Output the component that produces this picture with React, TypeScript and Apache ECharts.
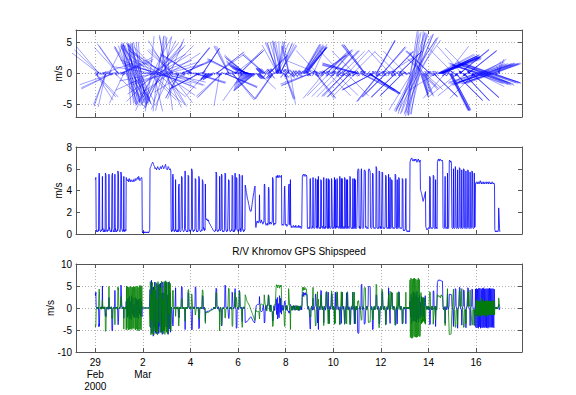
import React, { useEffect, useRef } from "react";
import * as echarts from "echarts";

// GPS ship velocity. Each day has two lists: samples on the
// 0.025-day grid and the samples half-way between them (0.0125 day later).
// Each sample: [speed m/s, u (east) m/s, v (north) m/s]
type Sample = [number, number, number];
const SAMPLE_STEP_DAYS = 0.025;

const FEB29: Sample[] = [
  [5.0, 3.3, -3.8], [5.2, 3.6, -3.8], [0.4, 0.3, -0.2], [0.3, -0.2, 0.2], [0.3, 0.1, 0.3],
  [0.4, -0.3, -0.2], [5.4, -4.3, 3.3], [5.5, -4.0, 3.8], [0.3, -0.2, 0.2], [0.2, 0.1, 0.1],
  [0.4, 0.3, -0.3], [0.3, -0.2, -0.2], [5.3, 5.0, 1.7], [0.5, 0.4, 0.3], [0.3, -0.2, 0.2],
  [0.2, 0.1, -0.1], [0.4, 0.2, 0.3], [5.6, -1.8, -5.3], [5.4, -2.0, -5.0], [0.3, -0.2, -0.2],
  [0.2, 0.1, 0.1], [0.4, -0.3, 0.3], [0.3, 0.2, -0.2], [5.5, 2.4, 4.9], [0.6, 0.3, 0.5],
  [0.3, -0.2, 0.2], [0.2, 0.1, 0.1], [0.4, 0.3, -0.2], [5.4, -4.9, -2.3], [5.6, -5.0, -2.5],
  [0.4, -0.3, -0.3], [0.3, 0.2, 0.2], [0.2, -0.1, 0.1], [5.5, 4.0, -3.8], [0.5, 0.3, -0.4],
  [0.3, -0.2, 0.2], [0.2, 0.1, -0.1], [0.4, -0.3, 0.2], [5.8, -3.3, 4.8], [5.5, -3.1, 4.5],
];
const FEB29_H: Sample[] = [
  [5.1, 2.8, -4.3], [0.5, 0.3, -0.4], [0.2, -0.1, 0.1], [0.3, 0.2, 0.2], [0.2, -0.1, -0.1],
  [0.3, 0.2, -0.2], [5.6, -3.6, 4.3], [0.4, -0.3, 0.3], [0.3, 0.2, -0.2], [0.2, -0.1, -0.1],
  [0.3, -0.2, 0.2], [0.4, 0.3, 0.2], [0.4, 0.3, -0.2], [0.2, -0.1, 0.1], [0.3, 0.2, 0.2],
  [0.3, -0.2, -0.2], [0.2, 0.1, -0.1], [5.5, -1.2, -5.4], [0.4, -0.3, -0.3], [0.3, 0.2, 0.1],
  [0.2, -0.1, -0.1], [0.3, 0.2, 0.2], [0.4, -0.3, 0.2], [0.5, 0.3, 0.4], [0.3, -0.2, 0.2],
  [0.2, 0.1, -0.1], [0.3, -0.2, -0.2], [0.2, 0.1, 0.1], [5.5, -5.2, -1.8], [0.5, -0.4, -0.3],
  [0.2, 0.1, -0.1], [0.3, -0.2, 0.2], [0.3, 0.2, -0.2], [0.4, 0.3, -0.3], [0.2, -0.1, 0.1],
  [0.3, 0.2, 0.2], [0.2, -0.1, -0.1], [0.3, 0.2, -0.2], [5.7, -3.8, 4.2], [0.5, -0.3, 0.4],
];
const MAR01: Sample[] = [
  [0.4, -0.3, 0.3], [0.3, 0.2, -0.2], [0.3, 0.1, 0.3], [5.7, 5.2, 2.3], [5.4, 5.0, 2.0],
  [0.5, 0.4, 0.3], [0.3, -0.2, -0.2], [0.4, 0.3, 0.2], [5.3, -2.3, -4.8], [0.4, -0.2, -0.3],
  [0.3, 0.2, 0.2], [0.4, -0.3, 0.2], [5.2, 1.5, -5.0], [5.0, 2.0, -4.6], [4.9, -1.0, 4.8],
  [5.0, 2.2, -4.5], [4.8, -0.8, 4.7], [5.1, 1.2, -4.9], [4.9, -2.5, 4.2], [4.8, 0.5, -4.8],
  [5.0, -1.5, 4.8], [4.9, 2.8, -4.0], [4.8, -0.3, 4.8], [4.9, 1.8, -4.6], [5.0, -2.0, 4.6],
  [4.8, 0.9, -4.7], [4.9, -1.2, 4.8], [5.1, 2.4, -4.5], [4.9, -0.6, 4.9], [5.0, 1.4, -4.8],
  [5.1, -2.2, 4.6], [5.2, 0.7, -5.1], [5.0, -1.6, 4.7], [5.3, 2.0, -4.9], [5.2, -0.5, 5.1],
  [4.9, 1.1, -4.8], [5.0, -1.9, 4.6], [5.1, 0.8, -5.0], [5.2, -1.3, 5.0], [0.3, 0.2, 0.2],
];
const MAR01_H: Sample[] = [
  [0.3, 0.2, 0.2], [0.2, -0.1, 0.1], [0.4, 0.3, 0.2], [5.6, 5.0, 2.6], [0.5, 0.4, 0.3],
  [0.3, -0.2, 0.2], [0.2, 0.1, -0.1], [0.3, -0.2, -0.2], [0.5, -0.3, -0.4], [0.2, 0.1, 0.1],
  [0.3, -0.2, -0.2], [0.3, 0.2, -0.2], [5.1, -0.6, 5.0], [5.0, 1.6, -4.7], [4.9, -2.1, 4.4],
  [5.0, 0.4, -5.0], [4.8, -1.7, 4.5], [5.0, 2.6, -4.3], [4.9, -0.2, 4.9], [4.8, 1.5, -4.6],
  [5.0, -2.6, 4.3], [4.9, 0.6, -4.9], [4.8, -1.4, 4.6], [4.9, 2.3, -4.3], [5.0, -0.9, 4.9],
  [4.9, 1.0, -4.8], [5.0, -2.3, 4.4], [5.0, 0.3, -5.0], [4.9, -1.8, 4.6], [5.1, 2.1, -4.6],
  [5.1, -0.8, 5.0], [5.1, 1.7, -4.8], [5.2, -2.4, 4.6], [5.2, 0.6, -5.2], [5.0, -1.4, 4.8],
  [5.0, 2.2, -4.5], [5.1, -0.4, 5.1], [5.1, 1.5, -4.9], [5.0, -2.0, 4.6], [0.1, 0.1, 0.0],
];
const MAR02: Sample[] = [
  [0.2, 0.1, 0.1], [0.1, 0.0, 0.1], [0.1, 0.1, 0.0], [0.2, -0.1, 0.1], [0.1, 0.0, -0.1],
  [0.2, 0.1, 0.1], [0.1, -0.1, 0.0], [0.2, 0.1, -0.1], [0.1, 0.0, 0.1], [0.2, -0.1, 0.1],
  [0.1, 0.1, 0.0], [0.3, 0.2, -0.2], [6.0, 4.2, -4.3], [6.1, -4.5, 4.1], [6.3, 5.5, 3.1],
  [6.4, -5.8, -2.7], [6.5, 3.0, 5.8], [6.6, -2.8, -6.0], [6.4, 4.8, 4.2], [6.3, -4.4, -4.5],
  [6.1, 5.9, -1.6], [6.0, -5.6, 2.2], [6.1, 1.8, 5.8], [5.9, -2.0, -5.5], [6.0, 4.6, -3.8],
  [6.2, -4.8, 3.9], [6.1, 5.2, 3.2], [6.0, -5.0, -3.3], [5.9, 2.6, 5.3], [6.1, -2.4, -5.6],
  [6.2, 5.7, -2.4], [6.0, -5.5, 2.4], [6.1, 3.4, 5.1], [6.3, -3.6, -5.2], [6.2, 5.1, -3.5],
  [6.0, -4.9, 3.5], [6.1, 1.2, 6.0], [6.2, -1.5, -6.0], [6.4, 4.5, 4.5], [6.1, -4.3, -4.3],
];
const MAR02_H: Sample[] = [
  [0.1, 0.0, 0.1], [0.2, 0.1, -0.1], [0.1, -0.1, 0.0], [0.1, 0.0, 0.1], [0.2, 0.1, 0.1],
  [0.1, -0.1, 0.1], [0.1, 0.1, 0.0], [0.2, -0.1, -0.1], [0.1, 0.0, 0.1], [0.1, 0.1, 0.0],
  [0.2, -0.1, 0.1], [0.4, 0.3, -0.2], [6.1, 0.6, 6.0], [6.2, -0.9, -6.1], [6.4, 6.3, -0.9],
  [6.5, -4.2, 5.0], [6.6, 4.6, -4.7], [6.5, -6.4, 1.1], [6.3, 1.4, -6.1], [6.2, 3.8, 4.9],
  [6.0, -3.1, -5.2], [6.1, 4.1, 4.5], [6.0, -5.9, -1.2], [6.0, 5.6, 2.1], [6.1, -0.7, -6.1],
  [6.1, 0.9, 6.0], [6.0, -5.8, 1.7], [5.9, 5.5, -2.1], [6.0, -4.2, 4.3], [6.1, 4.0, 4.6],
  [6.1, -2.6, -5.5], [6.1, 0.4, 6.1], [6.2, -6.0, 1.3], [6.2, 5.9, 1.9], [6.1, -1.9, -5.8],
  [6.0, 3.3, -5.0], [6.2, -5.2, 3.4], [6.3, 6.0, -1.9], [6.3, -1.0, 6.2], [6.0, 2.4, -5.5],
];
const MAR03: Sample[] = [
  [6.0, 5.8, 1.5], [5.9, -5.6, -1.8], [6.1, 3.0, -5.3], [6.2, -3.2, 5.3], [6.0, 5.0, 3.3],
  [5.9, -4.8, -3.4], [6.0, 2.2, 5.6], [5.8, -2.5, -5.2], [0.3, 0.2, -0.2], [0.4, -0.3, 0.2],
  [5.4, -3.8, 3.9], [5.3, -3.5, 4.0], [0.3, -0.2, 0.2], [0.2, 0.1, 0.1], [0.4, 0.3, -0.2],
  [5.0, 4.6, -1.9], [0.4, 0.3, -0.2], [0.3, -0.2, -0.2], [0.2, 0.1, 0.1], [0.4, -0.3, 0.3],
  [4.4, -2.0, -3.9], [4.6, -2.2, -4.0], [0.3, 0.2, 0.2], [0.2, -0.1, 0.1], [0.3, 0.2, -0.2],
  [5.3, 4.9, 2.0], [5.2, 4.7, 2.2], [0.4, 0.2, 0.3], [0.3, -0.2, 0.2], [0.2, 0.1, -0.1],
  [0.4, -0.3, -0.2], [5.8, -4.9, -3.0], [0.5, -0.3, -0.4], [0.3, 0.2, 0.2], [0.2, -0.1, 0.1],
  [0.3, 0.2, -0.2], [5.4, 3.5, 4.1], [5.3, 3.3, 4.2], [0.3, 0.1, 0.2], [0.4, -0.3, 0.2],
];
const MAR03_H: Sample[] = [
  [6.0, -1.2, 5.9], [6.0, 0.8, -5.9], [6.2, -6.0, -1.5], [6.1, 5.9, -1.4], [6.0, -0.6, 6.0],
  [5.9, 3.6, -4.7], [5.9, -5.5, 2.2], [0.4, -0.3, -0.3], [0.2, 0.1, 0.1], [0.3, -0.2, 0.2],
  [5.5, -4.1, 3.7], [0.4, -0.3, 0.3], [0.3, 0.2, -0.2], [0.2, -0.1, -0.1], [0.3, 0.2, 0.2],
  [0.4, 0.3, -0.3], [0.2, -0.1, 0.1], [0.3, 0.2, 0.2], [0.3, -0.2, -0.2], [0.2, -0.1, -0.1],
  [4.5, -1.8, -4.1], [0.4, -0.3, -0.2], [0.3, 0.2, -0.2], [0.2, -0.1, 0.1], [0.3, 0.2, 0.2],
  [5.3, 4.8, 2.1], [0.5, 0.3, 0.4], [0.3, -0.2, -0.2], [0.2, 0.1, 0.1], [0.3, -0.2, 0.2],
  [0.4, -0.3, -0.3], [0.5, -0.4, -0.3], [0.3, 0.2, 0.2], [0.2, -0.1, -0.1], [0.3, 0.2, -0.2],
  [0.2, 0.1, 0.1], [5.4, 3.4, 4.2], [0.4, 0.2, 0.3], [0.3, -0.2, 0.2], [0.2, 0.1, -0.1],
];
const MAR04: Sample[] = [
  [0.2, 0.1, -0.1], [0.3, -0.2, -0.2], [6.0, -5.0, 3.2], [5.7, -4.8, 3.0], [0.3, -0.2, 0.1],
  [0.2, 0.1, 0.1], [0.4, 0.3, -0.2], [0.3, -0.2, 0.2], [5.1, 4.8, -1.6], [5.0, 4.7, -1.5],
  [0.4, 0.3, -0.2], [0.3, -0.2, 0.2], [0.2, 0.1, 0.1], [0.3, 0.2, -0.2], [5.3, -4.7, -2.5],
  [5.1, -4.5, -2.4], [0.3, -0.2, -0.2], [0.2, 0.1, 0.1], [0.3, -0.2, 0.2], [0.4, 0.3, 0.2],
  [5.0, 2.8, 4.1], [4.8, 2.6, 4.0], [0.6, 0.3, 0.5], [0.4, -0.3, 0.2], [0.5, 0.3, -0.4],
  [4.6, -3.0, -3.5], [1.4, -0.8, -1.1], [1.3, -0.9, -0.9], [1.4, -0.9, -1.0], [1.2, -0.7, -1.0],
  [1.3, -0.8, -1.0], [1.1, -0.6, -0.9], [1.0, -0.6, -0.8], [0.9, -0.5, -0.7], [0.8, -0.5, -0.6],
  [0.7, -0.4, -0.6], [0.6, -0.3, -0.5], [0.5, -0.3, -0.4], [0.4, -0.2, -0.3], [0.3, 0.2, -0.2],
];
const MAR04_H: Sample[] = [
  [0.3, 0.2, 0.2], [0.4, -0.3, 0.2], [5.9, -5.1, 3.0], [0.4, -0.3, 0.2], [0.3, 0.2, -0.2],
  [0.2, -0.1, 0.1], [0.3, 0.2, 0.2], [0.4, 0.3, -0.2], [5.1, 4.9, -1.4], [0.5, 0.4, -0.3],
  [0.2, -0.1, -0.1], [0.3, 0.2, 0.2], [0.2, -0.1, 0.1], [0.3, -0.2, -0.2], [5.2, -4.6, -2.4],
  [0.4, -0.3, -0.2], [0.3, 0.2, 0.2], [0.2, -0.1, -0.1], [0.3, 0.2, -0.2], [0.3, -0.2, 0.2],
  [4.9, 2.7, 4.1], [0.5, 0.3, 0.4], [0.4, -0.3, 0.2], [0.3, 0.2, -0.2], [0.4, -0.3, -0.2],
  [1.5, -0.9, -1.2], [1.3, -0.8, -1.0], [1.4, -1.0, -1.0], [1.3, -0.7, -1.1], [1.2, -0.8, -0.9],
  [1.2, -0.7, -1.0], [1.0, -0.7, -0.8], [1.0, -0.5, -0.8], [0.8, -0.5, -0.7], [0.8, -0.4, -0.6],
  [0.6, -0.4, -0.5], [0.6, -0.3, -0.5], [0.4, -0.3, -0.3], [0.4, -0.2, -0.3], [0.3, -0.2, 0.2],
];
const MAR05: Sample[] = [
  [0.3, -0.2, 0.2], [0.2, 0.1, 0.1], [0.4, 0.3, -0.2], [5.7, 4.5, 3.5], [5.5, 4.3, 3.4],
  [0.3, 0.2, 0.2], [0.2, -0.1, 0.1], [0.4, 0.3, -0.2], [0.3, -0.2, -0.2], [5.3, -0.9, -5.2],
  [0.4, -0.2, -0.3], [0.3, 0.2, 0.2], [5.5, -3.9, -3.9], [5.4, -3.8, -3.8], [0.4, -0.3, -0.2],
  [0.3, 0.2, 0.1], [0.2, -0.1, 0.1], [0.3, 0.2, -0.2], [5.6, 5.2, -2.1], [5.5, 5.0, -2.2],
  [0.3, 0.2, -0.1], [0.2, -0.1, -0.1], [0.4, 0.3, 0.2], [0.3, -0.2, 0.2], [5.0, -2.2, 4.5],
  [4.9, -2.0, 4.4], [0.3, -0.2, 0.2], [0.2, 0.1, -0.1], [0.3, 0.2, 0.2], [0.4, -0.3, 0.2],
  [5.4, 3.6, -4.0], [5.3, 3.5, -4.0], [0.2, 0.1, -0.1], [0.3, -0.2, 0.2], [0.4, 0.3, 0.2],
  [5.6, 4.4, 3.5], [0.5, 0.3, 0.4], [5.2, -4.6, 2.4], [5.1, -4.5, 2.3], [0.4, -0.3, 0.2],
];
const MAR05_H: Sample[] = [
  [0.2, 0.1, 0.1], [0.3, -0.2, -0.2], [0.3, 0.2, 0.2], [5.6, 4.6, 3.2], [0.4, 0.3, 0.3],
  [0.3, -0.2, 0.2], [0.2, 0.1, -0.1], [0.3, -0.2, -0.2], [0.4, -0.2, -0.3], [0.5, -0.1, -0.5],
  [0.3, 0.2, 0.2], [0.4, -0.3, -0.3], [5.5, -4.1, -3.7], [0.4, -0.3, -0.3], [0.2, 0.1, 0.1],
  [0.3, -0.2, 0.2], [0.2, 0.1, -0.1], [0.3, 0.2, -0.2], [5.6, 5.1, -2.3], [0.4, 0.3, -0.2],
  [0.3, -0.2, -0.2], [0.2, 0.1, 0.1], [0.3, 0.2, -0.2], [0.3, -0.2, 0.2], [5.0, -2.4, 4.4],
  [0.4, -0.3, 0.3], [0.3, 0.2, -0.2], [0.2, -0.1, 0.1], [0.3, 0.2, 0.2], [0.3, 0.2, -0.2],
  [5.4, 3.4, -4.2], [0.4, 0.3, -0.3], [0.3, -0.2, 0.2], [0.2, 0.1, 0.1], [0.3, 0.2, 0.2],
  [0.5, 0.4, 0.3], [0.4, -0.3, 0.2], [5.2, -4.7, 2.2], [0.5, -0.4, 0.3], [0.3, 0.2, -0.2],
];
const MAR06: Sample[] = [
  [0.3, 0.2, 0.2], [0.4, -0.3, 0.2], [5.5, 4.0, 3.8], [5.3, 3.8, 3.7], [0.5, 0.3, 0.4],
  [0.3, -0.2, 0.2], [0.4, 0.3, -0.2], [5.4, -3.1, -4.4], [0.5, -0.3, -0.4], [0.3, 0.2, 0.2],
  [0.4, -0.2, 0.3], [0.3, 0.2, -0.2], [4.5, -3.3, 3.0], [4.2, -3.3, 2.6], [3.8, -3.2, 2.0],
  [3.5, -3.1, 1.6], [3.2, -2.9, 1.3], [3.0, -2.8, 1.1], [2.7, -2.6, 0.8], [2.4, -2.3, 0.6],
  [2.2, -2.2, 0.2], [2.1, -2.1, -0.2], [2.1, -2.0, -0.5], [2.5, -2.3, -0.9], [2.9, -2.6, -1.3],
  [3.3, -2.9, -1.6], [3.7, -3.1, -2.0], [4.0, -3.2, -2.4], [4.3, -3.4, -2.7], [4.4, -3.4, -2.8],
  [0.6, -0.4, -0.4], [1.0, 0.6, -0.8], [1.2, 0.8, -0.9], [1.1, 0.7, -0.8], [1.0, 0.7, -0.7],
  [1.2, 0.8, -0.9], [3.6, 2.6, -2.5], [1.1, 0.8, -0.8], [1.0, -0.7, 0.7], [1.3, -0.9, 0.9],
];
const MAR06_H: Sample[] = [
  [0.2, -0.1, 0.1], [0.3, 0.2, 0.2], [5.4, 3.7, 3.9], [0.4, 0.3, 0.3], [0.2, -0.1, 0.1],
  [0.3, 0.2, -0.2], [0.4, -0.3, -0.2], [0.5, -0.3, -0.4], [0.3, 0.2, 0.1], [0.2, -0.1, 0.1],
  [0.3, 0.2, -0.2], [0.4, -0.3, 0.2], [4.4, -3.4, 2.8], [4.0, -3.2, 2.4], [3.7, -3.2, 1.8],
  [3.3, -3.0, 1.4], [3.1, -2.9, 1.2], [2.8, -2.7, 0.9], [2.6, -2.5, 0.7], [2.3, -2.3, 0.4],
  [2.1, -2.1, 0.0], [2.1, -2.0, -0.4], [2.3, -2.2, -0.7], [2.7, -2.5, -1.1], [3.1, -2.7, -1.5],
  [3.5, -3.0, -1.8], [3.8, -3.1, -2.2], [4.2, -3.3, -2.6], [4.4, -3.4, -2.8], [0.8, -0.5, -0.6],
  [0.8, 0.5, -0.6], [1.1, 0.7, -0.9], [1.2, 0.8, -0.9], [1.0, 0.7, -0.7], [1.1, 0.8, -0.8],
  [1.3, 0.9, -0.9], [1.2, 0.8, -0.9], [1.0, -0.6, 0.8], [1.1, -0.8, 0.8], [1.2, -0.8, 0.9],
];
const MAR07: Sample[] = [
  [1.2, -0.8, 0.9], [1.0, -0.6, 0.8], [0.9, -0.6, 0.7], [1.1, 0.8, 0.7], [4.5, -3.4, 3.0],
  [4.4, -3.2, 3.0], [1.0, -0.6, 0.8], [0.8, 0.5, 0.6], [0.9, -0.6, -0.7], [1.0, 0.7, -0.7],
  [0.8, 0.5, 0.6], [4.2, 3.0, 2.9], [4.1, 3.0, 2.8], [0.9, 0.6, 0.7], [1.1, -0.7, -0.8],
  [1.0, 0.6, -0.8], [0.9, -0.6, 0.7], [1.1, -0.7, -0.8], [5.2, -3.0, -4.2], [5.0, -2.8, -4.1],
  [0.8, -0.5, -0.6], [0.9, 0.6, 0.6], [1.0, -0.7, 0.7], [0.9, 0.6, 0.6], [5.3, 2.0, 4.9],
  [5.2, -1.5, 5.0], [5.4, 2.4, 4.8], [5.3, -1.8, 5.0], [5.2, 1.0, 5.1], [5.4, -2.2, 4.9],
  [5.3, 2.6, 4.6], [5.2, -1.0, 5.1], [5.3, 1.8, 4.9], [5.4, -1.4, 5.2], [0.8, 0.5, 0.6],
  [0.9, -0.6, 0.6], [0.8, 0.6, -0.6], [0.9, -0.5, -0.7], [4.3, 1.5, -4.0], [4.4, 1.6, -4.1],
];
const MAR07_H: Sample[] = [
  [1.1, -0.7, 0.8], [0.9, -0.5, 0.7], [1.0, 0.7, 0.7], [1.2, -0.8, 0.9], [4.6, -3.5, 3.0],
  [1.1, -0.7, 0.8], [0.9, 0.6, 0.7], [0.8, -0.5, -0.6], [0.9, 0.6, -0.7], [1.0, 0.6, 0.8],
  [0.9, 0.6, 0.7], [4.3, 3.1, 3.0], [1.0, 0.7, 0.7], [1.0, -0.6, -0.8], [1.1, 0.7, -0.8],
  [0.9, -0.6, 0.7], [1.0, -0.7, -0.7], [1.2, -0.8, -0.9], [5.1, -2.9, -4.2], [0.9, -0.6, -0.7],
  [0.8, 0.5, 0.6], [1.0, -0.6, 0.8], [0.9, 0.6, 0.7], [1.0, 0.7, 0.7], [5.3, -0.6, 5.3],
  [5.3, 1.2, 5.2], [5.2, -2.5, 4.6], [5.3, 0.7, 5.2], [5.3, -1.4, 5.1], [5.3, 2.8, 4.5],
  [5.2, -0.2, 5.2], [5.3, 2.2, 4.8], [5.3, -0.9, 5.2], [0.9, 0.6, 0.7], [0.8, -0.5, 0.6],
  [0.9, 0.6, -0.6], [0.8, -0.5, -0.6], [0.9, 0.5, -0.7], [4.4, 1.4, -4.2], [0.9, 0.6, -0.7],
];
const MAR08: Sample[] = [
  [0.8, 0.5, -0.6], [0.9, -0.6, 0.6], [0.7, 0.5, 0.5], [0.8, -0.5, -0.6], [0.9, -0.6, 0.6],
  [4.5, -1.0, 4.4], [4.6, -1.2, 4.4], [0.9, -0.5, 0.7], [5.0, 0.8, -4.9], [0.8, 0.5, -0.6],
  [0.7, 0.5, -0.5], [0.6, 0.4, 0.4], [0.7, -0.5, 0.5], [0.8, -0.5, 0.6], [0.6, 0.4, 0.4],
  [0.7, 0.5, -0.5], [0.6, -0.4, -0.4], [0.8, -0.5, 0.6], [0.7, 0.5, 0.5], [0.6, -0.4, -0.4],
  [0.7, 0.5, -0.5], [0.6, 0.4, 0.4], [0.8, -0.6, 0.5], [0.7, 0.5, -0.5], [0.6, -0.4, -0.4],
  [0.7, 0.5, 0.5], [0.5, 0.3, 0.4], [0.6, -0.4, 0.4], [5.3, 3.0, 4.4], [5.4, 3.3, 4.3],
  [5.5, 2.8, 4.7], [5.3, 3.4, 4.1], [5.4, 3.0, 4.5], [5.5, 3.5, 4.2], [5.3, 2.9, 4.4],
  [5.4, 3.2, 4.3], [5.3, 3.1, 4.3], [0.5, 0.3, 0.4], [0.6, -0.4, 0.4], [0.5, 0.3, -0.4],
];
const MAR08_H: Sample[] = [
  [0.8, -0.5, 0.6], [0.8, 0.5, 0.6], [0.7, -0.5, -0.5], [0.8, -0.5, 0.6], [0.9, -0.6, 0.7],
  [4.5, -0.7, 4.4], [0.9, -0.6, 0.7], [0.8, 0.5, -0.6], [0.9, 0.6, -0.7], [0.6, 0.4, 0.4],
  [0.7, -0.5, -0.5], [0.6, 0.4, -0.4], [0.7, -0.5, 0.5], [0.7, 0.5, 0.5], [0.6, -0.4, -0.4],
  [0.7, 0.5, -0.5], [0.6, -0.4, 0.4], [0.7, 0.5, 0.5], [0.6, -0.4, -0.4], [0.7, 0.5, 0.5],
  [0.6, -0.4, 0.4], [0.7, 0.5, -0.5], [0.6, 0.4, 0.4], [0.7, -0.5, -0.5], [0.6, 0.4, -0.4],
  [0.6, -0.4, 0.4], [0.5, 0.3, 0.4], [0.6, -0.4, 0.4], [5.4, 2.7, 4.7], [5.4, 3.6, 4.0],
  [5.4, 2.6, 4.7], [5.4, 3.5, 4.1], [5.5, 2.9, 4.7], [5.4, 3.4, 4.2], [5.3, 3.0, 4.4],
  [5.3, 3.2, 4.2], [0.6, 0.4, 0.4], [0.5, -0.3, 0.4], [0.6, 0.4, -0.4], [0.5, -0.3, -0.4],
];
const MAR09: Sample[] = [
  [0.6, -0.4, -0.4], [5.0, -4.6, -1.9], [5.1, -4.7, -2.0], [0.6, -0.4, -0.4], [0.5, 0.3, 0.4],
  [0.7, -0.5, 0.5], [5.2, 2.2, 4.7], [0.6, 0.4, 0.4], [0.5, -0.3, -0.4], [0.6, 0.4, -0.4],
  [5.1, 3.0, -4.1], [5.0, 3.1, -3.9], [0.7, 0.4, -0.5], [0.5, -0.4, 0.3], [0.6, 0.4, 0.4],
  [5.3, -4.9, 2.0], [0.6, -0.4, 0.4], [0.5, 0.4, 0.3], [0.6, -0.4, -0.4], [5.0, 4.0, 3.0],
  [4.9, 3.9, 2.9], [0.6, 0.5, 0.4], [0.7, -0.5, -0.4], [0.5, 0.3, 0.4], [5.2, -3.3, -4.0],
  [0.5, -0.3, -0.4], [0.6, 0.4, 0.4], [0.7, -0.5, 0.5], [5.0, 3.6, 3.5], [5.1, 3.7, 3.5],
  [0.6, 0.4, 0.4], [0.5, -0.3, -0.3], [0.6, 0.4, -0.4], [5.0, -3.5, -3.6], [0.7, -0.5, -0.5],
  [0.6, 0.4, 0.4], [0.5, -0.3, 0.4], [5.1, 3.3, 3.9], [5.0, 3.2, 3.8], [0.5, 0.3, 0.4],
];
const MAR09_H: Sample[] = [
  [0.5, -0.3, -0.4], [5.1, -4.8, -1.7], [0.6, -0.4, -0.4], [0.6, 0.4, 0.4], [0.5, -0.3, 0.4],
  [0.6, 0.4, 0.4], [0.7, 0.3, 0.6], [0.6, -0.4, -0.4], [0.5, 0.3, -0.4], [0.6, 0.4, -0.4],
  [5.1, 3.2, -4.0], [0.6, 0.4, -0.4], [0.6, -0.4, 0.4], [5.0, -3.4, 3.7], [0.6, -0.4, 0.4],
  [0.7, -0.6, 0.3], [0.5, 0.3, 0.4], [0.6, -0.4, -0.4], [0.5, 0.3, 0.4], [5.0, 4.1, 2.9],
  [0.6, 0.4, 0.4], [0.6, -0.4, -0.4], [0.5, 0.3, 0.4], [0.6, -0.4, -0.4], [0.6, -0.4, -0.5],
  [0.6, 0.4, 0.4], [0.5, -0.3, 0.4], [0.6, 0.4, 0.4], [5.1, 3.5, 3.7], [0.6, 0.4, 0.4],
  [0.5, -0.3, -0.4], [5.1, 3.6, -3.6], [0.5, -0.3, -0.4], [0.6, -0.4, -0.4], [0.6, 0.4, 0.4],
  [0.5, -0.3, 0.4], [0.6, 0.4, 0.4], [5.0, 3.4, 3.7], [0.6, 0.4, 0.4], [0.5, -0.3, -0.4],
];
const MAR10: Sample[] = [
  [0.6, -0.4, -0.4], [0.5, 0.3, 0.4], [5.2, -3.6, -3.7], [0.6, -0.4, -0.4], [0.5, 0.3, 0.4],
  [0.7, -0.5, 0.5], [5.0, 3.4, 3.7], [5.0, 3.5, 3.6], [0.7, 0.5, 0.5], [0.6, -0.4, -0.4],
  [0.5, 0.3, -0.4], [5.3, -3.7, -3.8], [0.6, -0.4, -0.4], [0.5, 0.3, 0.4], [0.6, -0.4, 0.4],
  [5.1, 3.6, 3.6], [0.6, 0.4, 0.4], [0.5, -0.3, -0.4], [0.7, 0.5, -0.5], [5.2, -3.6, -3.7],
  [5.1, -3.5, -3.7], [0.6, -0.4, -0.4], [0.5, 0.3, 0.4], [0.6, -0.4, 0.4], [5.0, 3.4, 3.7],
  [0.7, 0.5, 0.5], [0.6, -0.4, -0.4], [0.5, 0.3, -0.4], [5.3, -3.7, -3.8], [5.2, -3.6, -3.7],
  [0.6, -0.4, -0.4], [0.5, 0.3, 0.4], [0.6, -0.4, 0.4], [5.1, 3.6, 3.6], [0.6, 0.4, 0.4],
  [0.5, -0.3, -0.4], [0.7, 0.5, -0.5], [5.0, -3.5, -3.6], [0.6, -0.4, -0.4], [0.5, 0.3, -0.4],
];
const MAR10_H: Sample[] = [
  [0.6, 0.4, 0.4], [0.5, -0.3, -0.4], [0.6, -0.4, -0.4], [5.0, 3.6, -3.5], [0.6, -0.4, 0.4],
  [0.6, 0.4, 0.4], [5.1, 3.5, 3.7], [0.6, 0.4, 0.4], [0.6, -0.4, -0.4], [0.5, 0.3, -0.4],
  [0.6, -0.4, -0.4], [0.6, -0.4, -0.5], [0.5, 0.3, 0.4], [5.1, -3.5, 3.7], [0.5, 0.3, 0.4],
  [0.6, 0.4, 0.4], [0.5, -0.3, -0.4], [0.6, 0.4, -0.4], [0.5, -0.3, -0.4], [5.2, -3.7, -3.6],
  [0.6, -0.4, -0.4], [0.5, 0.3, 0.4], [5.0, 3.5, -3.6], [0.5, 0.3, 0.4], [0.6, 0.4, 0.5],
  [0.6, -0.4, -0.4], [0.5, 0.3, -0.4], [0.6, -0.4, -0.4], [5.2, -3.6, -3.8], [0.6, -0.4, -0.4],
  [0.5, 0.3, 0.4], [0.6, -0.4, 0.4], [0.5, 0.3, 0.4], [0.6, 0.4, 0.4], [0.5, -0.3, -0.4],
  [5.1, -3.6, 3.6], [0.5, -0.3, -0.4], [0.6, -0.4, -0.4], [0.5, 0.3, 0.4], [0.6, -0.4, 0.4],
];
const MAR11: Sample[] = [
  [0.6, 0.4, -0.4], [5.8, -5.6, 1.5], [6.0, -5.8, 1.4], [5.9, -5.7, 1.6], [0.7, -0.5, 0.5],
  [0.6, 0.4, 0.4], [0.5, -0.3, -0.4], [5.9, 5.2, -2.8], [6.0, 5.4, -2.6], [0.6, 0.4, -0.4],
  [0.5, -0.3, 0.4], [0.6, 0.4, 0.4], [5.8, -3.5, 4.6], [5.9, -3.6, 4.7], [5.7, -3.4, 4.6],
  [0.7, -0.4, 0.5], [0.6, 0.4, -0.4], [0.5, -0.3, -0.4], [0.6, 0.4, 0.4], [5.8, 4.8, -3.3],
  [6.0, 5.0, -3.3], [5.9, 4.9, -3.2], [5.7, 4.7, -3.2], [0.6, 0.4, -0.4], [0.5, -0.3, -0.4],
  [0.6, 0.4, 0.4], [5.6, -4.9, -2.7], [5.5, -4.8, -2.6], [0.6, -0.4, -0.4], [0.5, 0.3, 0.4],
  [0.6, -0.4, 0.4], [0.5, 0.3, -0.4], [6.2, 3.0, 5.4], [6.0, 2.9, 5.2], [0.6, 0.4, 0.4],
  [0.5, -0.3, -0.4], [0.6, 0.4, -0.4], [5.8, -3.6, -4.5], [5.7, -3.5, -4.5], [0.7, -0.4, -0.5],
];
const MAR11_H: Sample[] = [
  [0.6, -0.4, 0.4], [5.9, -5.7, 1.3], [6.0, -5.8, 1.7], [0.6, -0.4, 0.4], [0.5, 0.3, 0.4],
  [0.6, -0.4, -0.4], [0.5, 0.3, -0.4], [6.0, 5.3, -2.8], [0.6, 0.4, -0.4], [0.6, -0.4, 0.4],
  [0.5, 0.3, 0.4], [0.6, -0.4, 0.4], [5.9, -3.7, 4.6], [5.8, -3.4, 4.7], [0.6, -0.4, 0.4],
  [0.6, 0.4, -0.4], [0.5, -0.3, -0.4], [0.6, 0.4, 0.4], [0.5, 0.3, -0.4], [5.9, 4.9, -3.3],
  [6.0, 5.0, -3.2], [5.8, 4.8, -3.2], [0.6, 0.4, -0.4], [0.6, -0.4, -0.4], [0.5, 0.3, 0.4],
  [0.6, -0.4, -0.4], [5.6, -4.9, -2.6], [0.6, -0.4, -0.4], [0.5, 0.3, 0.4], [0.6, -0.4, 0.4],
  [0.5, 0.3, -0.4], [0.6, 0.4, 0.4], [6.1, 3.0, 5.3], [0.6, 0.4, 0.4], [0.5, -0.3, -0.4],
  [0.6, 0.4, -0.4], [0.5, -0.3, -0.4], [5.8, -3.6, -4.5], [0.6, -0.4, -0.4], [0.5, 0.3, 0.4],
];
const MAR12: Sample[] = [
  [0.6, 0.4, 0.4], [0.5, -0.3, 0.4], [5.7, 3.7, 4.3], [5.6, 3.6, 4.3], [0.5, 0.3, 0.4],
  [0.6, -0.4, -0.4], [0.5, 0.3, -0.4], [0.6, -0.4, 0.4], [5.4, -3.8, -3.8], [5.3, -3.7, -3.8],
  [0.6, -0.4, -0.4], [0.5, 0.3, 0.4], [0.6, -0.4, 0.4], [5.5, 4.6, 3.0], [0.6, 0.4, 0.4],
  [0.5, -0.3, -0.4], [0.6, 0.4, -0.4], [0.5, 0.3, 0.4], [5.0, 3.5, 3.6], [4.9, 3.4, 3.5],
  [0.6, 0.4, 0.4], [0.5, -0.3, -0.4], [0.6, 0.4, -0.4], [0.5, -0.3, 0.4], [5.5, -3.9, -3.9],
  [5.4, -3.8, -3.8], [0.6, -0.4, -0.4], [0.5, 0.3, 0.4], [0.6, -0.4, 0.4], [0.5, 0.3, -0.4],
  [5.2, 3.7, 3.6], [5.1, 3.6, 3.6], [0.6, 0.4, 0.4], [0.5, -0.3, -0.4], [0.6, 0.4, -0.4],
  [0.5, -0.3, 0.4], [5.1, -3.6, -3.6], [5.0, -3.5, -3.5], [0.3, -0.2, -0.2], [0.4, 0.3, 0.2],
];
const MAR12_H: Sample[] = [
  [0.6, -0.4, -0.4], [0.5, 0.3, 0.4], [5.7, 3.8, 4.2], [0.6, 0.4, 0.4], [0.5, -0.3, -0.4],
  [0.6, 0.4, -0.4], [0.5, -0.3, 0.4], [0.6, -0.4, -0.4], [5.4, -3.8, -3.7], [0.6, -0.4, -0.4],
  [0.5, 0.3, 0.4], [0.6, -0.4, 0.4], [0.5, 0.3, 0.4], [0.6, 0.4, 0.4], [0.5, -0.3, -0.4],
  [5.2, -3.5, 3.8], [0.5, 0.3, -0.4], [0.6, 0.4, 0.4], [5.0, 3.4, 3.6], [0.6, 0.4, 0.4],
  [0.5, -0.3, -0.4], [0.6, 0.4, -0.4], [0.5, -0.3, 0.4], [0.6, -0.4, -0.4], [5.5, -3.9, -3.8],
  [0.6, -0.4, -0.4], [0.5, 0.3, 0.4], [5.0, -3.6, 3.5], [0.5, 0.3, -0.4], [0.6, 0.4, 0.4],
  [5.2, 3.7, 3.6], [0.6, 0.4, 0.4], [0.5, -0.3, -0.4], [0.6, 0.4, -0.4], [0.5, -0.3, 0.4],
  [0.6, -0.4, -0.4], [5.1, -3.6, -3.6], [0.4, -0.3, -0.3], [0.3, 0.2, 0.2], [0.4, -0.3, 0.2],
];
const MAR13: Sample[] = [
  [0.3, -0.2, 0.2], [0.4, 0.3, -0.2], [5.1, -3.6, 3.6], [0.4, -0.3, 0.3], [0.2, 0.1, 0.1],
  [0.3, -0.2, -0.2], [0.2, 0.1, -0.1], [0.3, 0.2, 0.2], [0.2, -0.1, 0.1], [6.6, 1.5, 6.4],
  [6.8, -2.0, -6.5], [6.9, 3.2, 6.1], [7.0, -1.0, -6.9], [6.8, 2.5, 6.3], [6.7, -3.0, -6.0],
  [6.8, 1.2, 6.7], [6.9, -2.2, -6.5], [6.7, 3.5, 5.7], [6.8, -1.8, -6.6], [6.9, 2.8, 6.3],
  [6.7, -3.3, -5.8], [6.6, 1.6, 6.4], [6.8, -2.6, -6.3], [6.9, 0.8, 6.8], [6.7, -1.9, -6.4],
  [6.6, 3.0, 5.9], [6.8, -2.4, -6.3], [4.0, 1.2, -3.8], [3.8, 1.1, -3.6], [3.6, 1.0, -3.4],
  [3.3, 0.9, -3.2], [3.0, 0.8, -2.9], [3.2, 1.0, -3.0], [3.4, 1.1, -3.2], [3.7, 1.2, -3.5],
  [3.9, 1.3, -3.7], [0.6, 0.3, -0.5], [0.4, -0.3, 0.3], [0.5, 0.3, 0.4], [0.4, -0.3, -0.2],
];
const MAR13_H: Sample[] = [
  [0.3, 0.2, -0.2], [0.4, -0.3, 0.3], [0.5, -0.4, 0.3], [0.3, 0.2, -0.2], [0.2, -0.1, 0.1],
  [0.3, 0.2, 0.2], [0.2, -0.1, -0.1], [0.3, 0.2, -0.2], [0.4, -0.3, 0.2], [6.7, -0.4, -6.7],
  [6.9, 1.0, 6.8], [6.9, -3.6, -5.9], [6.9, 2.0, 6.6], [6.8, -0.7, -6.8], [6.7, 3.7, 5.6],
  [6.8, -2.9, -6.2], [6.8, 0.6, 6.8], [6.8, -3.1, -6.1], [6.8, 1.5, 6.6], [6.8, -1.2, -6.7],
  [6.6, 3.8, 5.4], [6.7, -1.0, -6.6], [6.8, 2.4, 6.4], [6.8, -3.2, -6.0], [6.6, 1.1, 6.5],
  [6.7, -1.5, -6.5], [4.1, 1.3, -3.9], [3.9, -1.8, 3.5], [3.7, 2.6, -2.6], [3.4, -2.4, 2.4],
  [3.1, 2.2, -2.2], [3.1, -2.0, 2.4], [3.3, 2.3, -2.4], [3.5, -2.6, 2.3], [3.8, 2.8, -2.6],
  [0.7, 0.4, -0.5], [0.5, -0.3, 0.4], [0.4, 0.3, -0.3], [0.5, -0.3, 0.4], [0.4, 0.3, -0.3],
];
const MAR14: Sample[] = [
  [0.5, 0.3, 0.4], [0.6, -0.4, 0.4], [5.3, -3.8, 3.7], [5.2, -3.7, 3.6], [0.6, -0.4, 0.4],
  [0.5, 0.3, -0.4], [0.6, -0.4, -0.4], [0.5, 0.3, 0.4], [5.4, 3.9, -3.7], [5.3, 3.8, -3.7],
  [0.6, 0.4, -0.4], [0.5, -0.3, 0.4], [5.0, -4.2, -2.7], [0.5, 0.3, 0.3], [0.6, -0.4, 0.4],
  [6.6, 5.8, 3.1], [6.8, 6.2, 2.8], [6.9, 6.4, 2.5], [6.7, 6.1, 2.8], [6.8, 6.3, 2.6],
  [6.9, 6.5, 2.3], [6.8, 6.2, 2.8], [6.7, 6.0, 3.0], [6.8, 6.3, 2.5], [6.6, 6.0, 2.7],
  [0.6, 0.4, 0.4], [0.5, -0.3, -0.4], [0.6, 0.4, -0.4], [5.3, -3.5, -4.0], [0.6, -0.4, -0.4],
  [0.5, 0.3, 0.4], [0.6, -0.4, 0.4], [5.6, 3.4, 4.4], [0.5, 0.3, 0.4], [0.6, -0.4, -0.4],
  [6.7, 3.0, -6.0], [6.8, 3.2, -6.0], [6.6, 2.9, -5.9], [6.7, 3.1, -5.9], [6.6, 3.0, -5.9],
];
const MAR14_H: Sample[] = [
  [0.6, -0.4, -0.4], [0.5, 0.3, 0.4], [5.3, -3.9, 3.6], [0.6, -0.4, 0.4], [0.5, 0.3, 0.4],
  [0.6, -0.4, 0.4], [0.5, 0.3, -0.4], [0.6, -0.4, -0.4], [5.4, 3.8, -3.8], [0.6, 0.4, -0.4],
  [0.5, -0.3, -0.4], [0.6, 0.4, 0.4], [0.5, -0.4, -0.3], [0.6, 0.4, -0.4], [0.5, -0.3, 0.4],
  [6.7, 6.0, 3.0], [6.8, 6.3, 2.6], [6.8, 6.2, 2.8], [6.8, 6.3, 2.6], [6.9, 6.4, 2.5],
  [6.8, 6.2, 2.7], [6.8, 6.1, 3.0], [6.7, 6.2, 2.6], [6.7, 6.1, 2.7], [0.6, 0.4, 0.4],
  [0.6, -0.4, 0.4], [0.5, 0.3, -0.4], [0.6, -0.4, -0.4], [0.6, -0.4, -0.4], [0.5, 0.3, 0.4],
  [0.6, -0.4, 0.4], [0.5, 0.3, 0.4], [0.6, 0.4, 0.4], [0.5, -0.3, -0.4], [0.6, 0.4, -0.4],
  [6.8, 3.1, -6.0], [6.7, 3.0, -6.0], [6.7, 3.0, -6.0], [6.6, 3.1, -5.8], [0.6, 0.3, -0.5],
];
const MAR15: Sample[] = [
  [0.6, 0.3, -0.5], [0.5, -0.3, 0.4], [6.0, -4.2, 4.3], [0.6, -0.4, 0.4], [0.5, 0.3, -0.4],
  [6.2, 4.4, -4.4], [6.1, 4.3, -4.3], [0.6, 0.4, -0.4], [0.5, -0.3, -0.4], [5.9, -4.6, -3.7],
  [0.6, -0.4, -0.4], [0.5, 0.3, 0.4], [6.1, 4.7, 3.9], [6.0, 4.6, 3.8], [0.6, 0.4, 0.4],
  [0.5, -0.3, 0.4], [5.9, -3.9, 4.4], [0.6, -0.4, 0.4], [0.5, 0.3, -0.4], [6.0, 4.1, -4.4],
  [5.9, 4.0, -4.3], [0.6, 0.4, -0.4], [0.5, -0.3, -0.4], [5.8, -4.5, -3.6], [0.6, -0.4, -0.4],
  [0.5, 0.3, 0.4], [5.9, 4.6, 3.7], [5.8, 4.5, 3.6], [0.6, 0.4, 0.4], [0.5, -0.3, 0.4],
  [5.7, -4.0, 4.1], [0.6, -0.4, 0.4], [0.5, 0.3, -0.4], [5.8, 4.3, -3.9], [5.7, 4.2, -3.8],
  [0.6, 0.4, -0.4], [0.5, -0.3, -0.4], [5.6, -3.9, -4.0], [0.6, -0.4, -0.4], [4.6, 4.3, -1.6],
];
const MAR15_H: Sample[] = [
  [0.5, 0.3, 0.4], [0.6, -0.4, 0.4], [0.6, -0.4, 0.4], [0.5, 0.3, -0.4], [0.6, 0.4, -0.4],
  [6.1, 4.3, -4.3], [0.6, 0.4, -0.4], [0.5, -0.3, -0.4], [0.6, -0.4, -0.4], [0.6, -0.4, -0.4],
  [0.5, 0.3, 0.4], [0.6, 0.4, 0.4], [6.1, 4.7, 3.8], [0.6, 0.4, 0.4], [0.5, -0.3, 0.4],
  [0.6, -0.4, 0.4], [0.6, -0.4, 0.4], [0.5, 0.3, -0.4], [0.6, 0.4, -0.4], [6.0, 4.1, -4.4],
  [0.6, 0.4, -0.4], [0.5, -0.3, -0.4], [0.6, -0.4, -0.4], [0.6, -0.4, -0.4], [0.5, 0.3, 0.4],
  [0.6, 0.4, 0.4], [5.9, 4.6, 3.7], [0.6, 0.4, 0.4], [0.5, -0.3, 0.4], [0.6, -0.4, 0.4],
  [0.6, -0.4, 0.4], [0.5, 0.3, -0.4], [0.6, 0.4, -0.4], [5.8, 4.3, -3.9], [0.6, 0.4, -0.4],
  [0.5, -0.3, -0.4], [0.6, -0.4, -0.4], [0.6, -0.4, -0.4], [0.7, 0.5, -0.4], [4.7, -4.4, -1.6],
];
const MAR16: Sample[] = [
  [4.7, -4.4, 1.7], [4.8, 4.5, 1.6], [4.6, -4.3, -1.7], [4.7, 4.2, -2.1], [4.8, -4.6, 1.4],
  [4.6, 4.4, 1.4], [4.7, -4.3, -1.9], [4.9, 4.6, -1.7], [4.7, -4.5, 1.3], [4.6, 4.0, 2.3],
  [4.8, -4.5, -1.7], [4.7, 4.4, -1.6], [4.6, -4.2, 1.9], [4.8, 4.6, 1.4], [4.7, -4.4, -1.6],
  [4.6, 4.2, -1.9], [4.7, -4.4, 1.6], [4.8, 4.5, 1.7], [4.6, -4.4, -1.3], [4.7, 4.3, -1.9],
  [4.8, -4.6, 1.4], [4.6, 4.3, 1.6], [4.7, -4.4, -1.7], [4.8, 4.6, -1.4], [4.6, -4.3, 1.6],
  [4.7, 4.4, 1.6], [4.6, -4.3, -1.6], [4.8, 4.5, -1.5], [4.7, -4.4, 1.5], [4.6, 4.3, 1.7],
  [4.7, -4.5, -1.3], [4.5, 4.2, -1.6], [0.3, 0.2, -0.2], [0.2, 0.1, 0.1], [0.3, -0.2, 0.2],
  [0.2, 0.1, -0.1], [0.3, -0.2, -0.2], [0.2, 0.1, 0.1], [2.4, 0.8, 2.3], [1.2, -0.4, 1.1],
  [0.2, 0.1, 0.1],
];
const MAR16_H: Sample[] = [
  [4.7, 4.4, -1.6], [4.7, -4.5, -1.4], [4.7, 4.3, 1.9], [4.7, -4.4, 1.6], [4.7, 4.5, -1.4],
  [4.7, -4.3, -1.8], [4.8, 4.5, 1.6], [4.8, -4.6, 1.4], [4.7, 4.3, -1.8], [4.7, -4.3, -1.9],
  [4.7, 4.5, 1.4], [4.7, -4.4, 1.6], [4.7, 4.4, -1.6], [4.8, -4.5, -1.6], [4.6, 4.3, 1.6],
  [4.7, -4.4, 1.6], [4.7, 4.4, -1.7], [4.7, -4.5, -1.4], [4.7, 4.4, 1.6], [4.7, -4.4, 1.7],
  [4.7, 4.4, -1.5], [4.7, -4.4, -1.6], [4.8, 4.5, 1.6], [4.7, -4.4, 1.6], [4.7, 4.4, -1.6],
  [4.7, -4.4, -1.6], [4.7, 4.4, 1.5], [4.7, -4.4, 1.6], [4.7, 4.4, -1.5], [4.6, -4.3, -1.6],
  [4.6, 4.3, 1.6], [0.4, 0.3, -0.3], [0.2, -0.1, 0.1], [0.3, 0.2, -0.2], [0.2, -0.1, -0.1],
  [0.3, 0.2, 0.2], [0.2, -0.1, 0.1], [0.3, 0.2, 0.2], [1.9, 0.2, 1.9], [0.5, -0.2, 0.4],
];

const DAY_STARTS = [0, 1, 2, 3, 4, 5, 6, 7, 8, 9, 10, 11, 12, 13, 14, 15, 16];
const DAY_SAMPLES = [FEB29, MAR01, MAR02, MAR03, MAR04, MAR05, MAR06, MAR07, MAR08, MAR09, MAR10, MAR11, MAR12, MAR13, MAR14, MAR15, MAR16];
const DAY_HALF_SAMPLES = [FEB29_H, MAR01_H, MAR02_H, MAR03_H, MAR04_H, MAR05_H, MAR06_H, MAR07_H, MAR08_H, MAR09_H, MAR10_H, MAR11_H, MAR12_H, MAR13_H, MAR14_H, MAR15_H, MAR16_H];

const X_TICKS = [0, 2, 4, 6, 8, 10, 12, 14, 16];
const X_TICK_LABELS = ["29\nFeb\n2000", "2\nMar", "4", "6", "8", "10", "12", "14", "16"];
const STICK_TICKS = [-5, 0, 5];
const SPEED_TICKS = [0, 2, 4, 6, 8];
const UV_TICKS = [-10, -5, 0, 5, 10];
const TITLE = "R/V Khromov GPS Shipspeed";
const Y_NAME = "m/s";

// [day, speed, u, v] in time order
const POINTS: number[][] = [];
DAY_STARTS.forEach((d, k) => {
  const main = DAY_SAMPLES[k];
  const half = DAY_HALF_SAMPLES[k];
  main.forEach((s, j) => {
    POINTS.push([d + j * SAMPLE_STEP_DAYS, s[0], s[1], s[2]]);
    if (half[j]) POINTS.push([d + (j + 0.5) * SAMPLE_STEP_DAYS, half[j][0], half[j][1], half[j][2]]);
  });
});

const FONT = "'Liberation Sans', Arial, Helvetica, sans-serif";
const AXC = "#555";
const GRIDC = "#b0b0b0";
const XMIN = -0.81;
const XMAX = 17.93;
const STICK_DAYS_PER_MS = 0.263;

function xAxis(grid: number, pos: "top" | "bottom", labels: boolean, split: boolean) {
  return {
    type: "value",
    gridIndex: grid,
    position: pos,
    min: XMIN,
    max: XMAX,
    axisLine: { show: true, onZero: false, lineStyle: { color: AXC, width: 1 } },
    axisTick: { show: true, inside: true, length: 4, customValues: X_TICKS, lineStyle: { color: AXC } },
    axisLabel: {
      show: labels,
      customValues: X_TICKS,
      formatter: (v: number) => {
        const i = X_TICKS.indexOf(v);
        return i >= 0 ? X_TICK_LABELS[i] : "";
      },
      margin: 4,
      fontSize: 10,
      lineHeight: 12,
      color: "#000",
      fontFamily: FONT,
    },
    splitLine: { show: split, lineStyle: { color: GRIDC, type: [1, 2], width: 1 } },
  };
}

function yAxis(
  grid: number,
  pos: "left" | "right",
  min: number,
  max: number,
  ticks: number[],
  labels: boolean,
  split: boolean,
  nameGap: number
) {
  return {
    type: "value",
    gridIndex: grid,
    position: pos,
    min,
    max,
    name: labels ? Y_NAME : "",
    nameLocation: "middle",
    nameGap,
    nameMoveOverlap: false,
    nameTextStyle: { fontSize: 10, color: "#000", fontFamily: FONT },
    axisLine: { show: true, onZero: false, lineStyle: { color: AXC, width: 1 } },
    axisTick: { show: true, inside: true, length: 4, customValues: ticks, lineStyle: { color: AXC } },
    axisLabel: { show: labels, customValues: ticks, margin: 4, fontSize: 10, color: "#000", fontFamily: FONT },
    splitLine: { show: split, lineStyle: { color: GRIDC, type: [1, 2], width: 1 } },
  };
}

export default function App() {
  const ref = useRef<HTMLDivElement>(null);
  useEffect(() => {
    if (!ref.current) return;
    const chart = echarts.init(ref.current, undefined, { renderer: "svg" });
    const grids = [
      { left: 76, top: 30, width: 446, height: 87 },
      { left: 76, top: 147, width: 446, height: 87 },
      { left: 76, top: 264, width: 446, height: 88 },
    ];
    const option: any = {
      animation: false,
      backgroundColor: "#fff",
      textStyle: { fontFamily: FONT },
      title: {
        text: TITLE,
        left: 299,
        top: 246,
        textAlign: "center",
        padding: 0,
        textStyle: { fontSize: 10, fontWeight: "normal", color: "#000", fontFamily: FONT },
      },
      grid: grids.map((g) => ({ ...g, containLabel: false })),
      xAxis: [
        xAxis(0, "bottom", false, true),
        xAxis(1, "bottom", false, false),
        xAxis(2, "bottom", true, true),
        xAxis(0, "top", false, false),
        xAxis(1, "top", false, false),
        xAxis(2, "top", false, false),
      ],
      yAxis: [
        yAxis(0, "left", -7, 7, STICK_TICKS, true, true, 13),
        yAxis(1, "left", 0, 8, SPEED_TICKS, true, false, 13),
        yAxis(2, "left", -10, 10, UV_TICKS, true, true, 21),
        yAxis(0, "right", -7, 7, STICK_TICKS, false, false, 0),
        yAxis(1, "right", 0, 8, SPEED_TICKS, false, false, 0),
        yAxis(2, "right", -10, 10, UV_TICKS, false, false, 0),
      ],
      series: [
        {
          type: "custom",
          xAxisIndex: 0,
          yAxisIndex: 0,
          clip: false,
          silent: true,
          data: POINTS.map((p) => [p[0], p[2], p[3]]),
          renderItem: (_p: any, api: any) => {
            const t = api.value(0);
            const u = api.value(1);
            const v = api.value(2);
            const a = api.coord([t, 0]);
            const b = api.coord([t + u * STICK_DAYS_PER_MS, v]);
            return {
              type: "line",
              shape: { x1: a[0], y1: a[1], x2: b[0], y2: b[1] },
              style: { stroke: "#0000ff", lineWidth: 0.5, opacity: 0.75 },
            };
          },
        },
        {
          type: "line",
          xAxisIndex: 1,
          yAxisIndex: 1,
          showSymbol: false,
          silent: true,
          data: POINTS.map((p) => [p[0], p[1]]),
          lineStyle: { color: "#0000ff", width: 0.8 },
        },
        {
          type: "line",
          xAxisIndex: 2,
          yAxisIndex: 2,
          showSymbol: false,
          silent: true,
          data: POINTS.map((p) => [p[0], p[2]]),
          lineStyle: { color: "#0000ff", width: 0.8 },
        },
        {
          type: "line",
          xAxisIndex: 2,
          yAxisIndex: 2,
          showSymbol: false,
          silent: true,
          data: POINTS.map((p) => [p[0], p[3]]),
          lineStyle: { color: "#008000", width: 0.8 },
        },
      ],
    };
    chart.setOption(option);
    return () => chart.dispose();
  }, []);
  return (
    <div
      ref={ref}
      style={{ position: "fixed", left: 0, top: 0, width: 576, height: 395, background: "#fff" }}
    />
  );
}
